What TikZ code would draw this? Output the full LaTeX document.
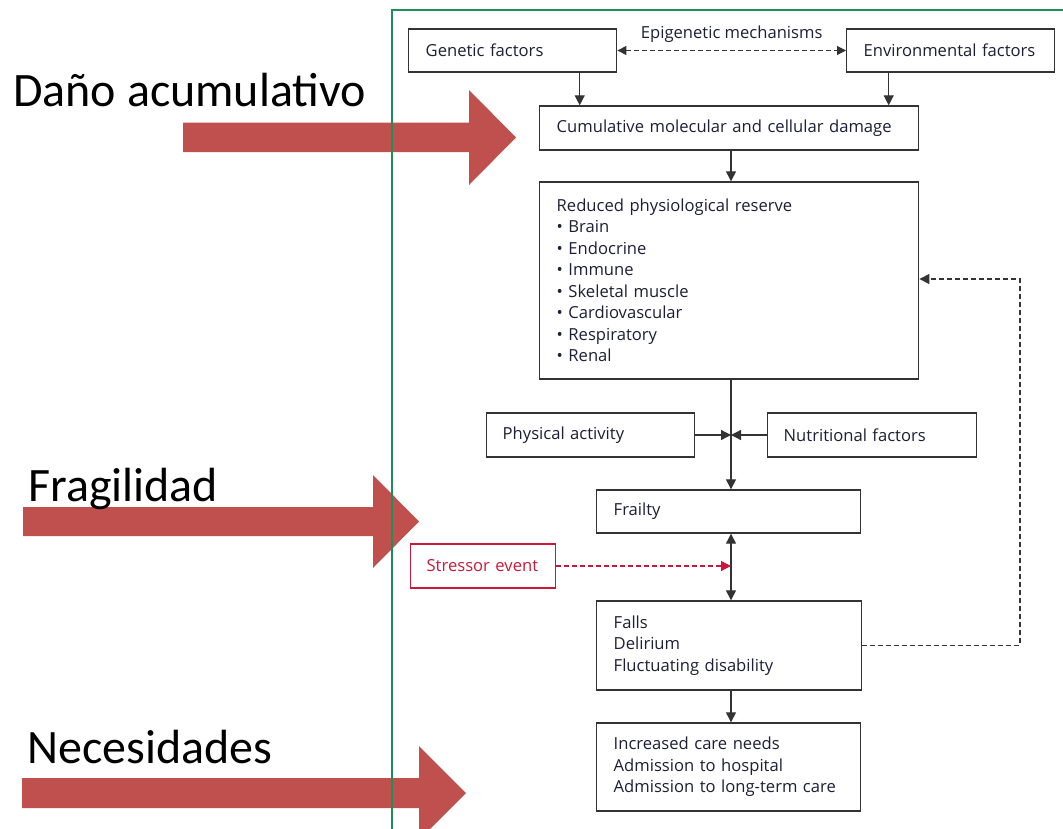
\documentclass[tikz,border=0pt]{standalone}
\usepackage{fontspec}
\setmainfont{Open Sans}
\newfontfamily\calib{Carlito}
\usetikzlibrary{arrows.meta}
\definecolor{redarrow}{HTML}{C0504D}
\definecolor{framegreen}{HTML}{1E8E5A}
\definecolor{txt}{HTML}{1E1E36}
\definecolor{stress}{HTML}{C8193C}
\definecolor{boxline}{HTML}{333333}
\begin{document}
\begin{tikzpicture}[x=1pt,y=-1pt,
  box/.style={draw=boxline, line width=1.4pt, anchor=west, align=left,
    inner xsep=17pt, inner ysep=0pt, text=txt,
    font=\fontsize{16.6}{21.5}\selectfont},
  stressbox/.style={box, draw=stress, line width=1.2pt, text=stress},
  arr/.style={draw=boxline, line width=1.3pt, -{Triangle[length=10pt,width=10pt]}},
  dasharr/.style={draw=boxline, line width=1.1pt, dash pattern=on 5pt off 3pt},
  bigtext/.style={anchor=base west, inner sep=0pt, font=\calib\fontsize{48}{50}\selectfont, text=black}
]
\useasboundingbox (0,0) rectangle (1063,828);
\fill[white] (0,0) rectangle (1063,828);

% red arrows
\fill[redarrow] (183,122.5) -- (469,122.5) -- (469,90) -- (516,137.5) -- (469,185) -- (469,152) -- (183,152) -- cycle;
\fill[redarrow] (23,507) -- (373,507) -- (373,475) -- (419,521.5) -- (373,568) -- (373,536) -- (23,536) -- cycle;
\fill[redarrow] (22,778) -- (419,778) -- (419,746) -- (466,793) -- (419,840) -- (419,808) -- (22,808) -- cycle;

% green frame
\draw[framegreen, line width=2pt] (391.5,830) -- (391.5,9.5) -- (1065,9.5);

% labels
\node[bigtext] (lab1) at (13,106) {Daño acumulativo};
\node[bigtext] (lab2) at (28,501) {Fragilidad};
\node[bigtext] (lab3) at (27,763) {Necesidades};

\coordinate (spine) at (731,0);
\coordinate (fbtop) at (1020,279);

% boxes
\node[box, text width=174pt, minimum height=43pt] (gen) at (408,50.5) {Genetic factors};
\node[box, text width=174pt, minimum height=43pt] (env) at (846,50.5) {Environmental factors};
\node[box, text width=345pt, minimum height=44pt] (cum) at (539,128) {Cumulative molecular and cellular damage};
\node[box, text width=345pt, minimum height=197pt] (red) at (539,280.5) {Reduced physiological reserve\\
• Brain\\ • Endocrine\\ • Immune\\ • Skeletal muscle\\ • Cardiovascular\\ • Respiratory\\ • Renal};
\node[box, inner xsep=16pt, text width=176pt, minimum height=44pt] (phys) at (486,435) {Physical activity};
\node[box, inner xsep=16pt, text width=177pt, minimum height=44pt] (nutr) at (767,435) {Nutritional factors};
\node[box, text width=230pt, minimum height=43pt] (frail) at (596,511.5) {Frailty};
\node[stressbox, inner xsep=16pt, text width=113pt, minimum height=44pt] (stress) at (410,566) {Stressor event};
\node[box, text width=231pt, minimum height=89pt] (falls) at (596,645.5) {Falls\\ Delirium\\ Fluctuating disability};
\node[box, text width=230pt, minimum height=88pt] (needs) at (596,767) {Increased care needs\\ Admission to hospital\\ Admission to long-term care};

% connectors
\draw[dasharr, {Triangle[length=9pt,width=9pt]}-{Triangle[length=9pt,width=9pt]}] (gen.east) -- node[above=4pt, text=txt, font=\fontsize{16.6}{18}\selectfont] (epi) {Epigenetic mechanisms} (env.west);
\draw[arr] ([xshift=67pt]gen.south) -- ([xshift=67pt]gen.south |- cum.north);
\draw[arr] ([xshift=-62pt]env.south) -- ([xshift=-62pt]env.south |- cum.north);
\draw[arr] (cum.south -| spine) -- (red.north -| spine);
\draw[arr] (red.south -| spine) -- (frail.north -| spine);
\draw[arr] (phys.east) -- (phys.east -| spine);
\draw[arr] (nutr.west) -- (nutr.west -| spine);
\draw[arr, {Triangle[length=10pt,width=10pt]}-{Triangle[length=10pt,width=10pt]}] (frail.south -| spine) -- (falls.north -| spine);
\draw[stress, line width=1.1pt, dash pattern=on 5pt off 3pt, -{Triangle[length=10pt,width=10pt]}] (stress.east) -- (stress.east -| spine);
\draw[arr] (falls.south -| spine) -- (needs.north -| spine);
\draw[dasharr, -{Triangle[length=10pt,width=10pt]}] (falls.east) -| (fbtop) -- (fbtop -| red.east);
\end{tikzpicture}
\end{document}
